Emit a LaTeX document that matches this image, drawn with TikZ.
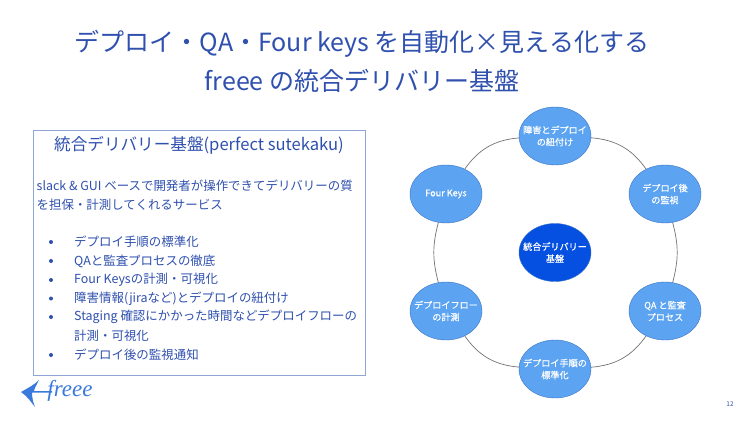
\documentclass[tikz,border=0pt]{standalone}
\usepackage{fontspec}
\setmainfont{Noto Sans CJK JP}
\newfontfamily\logofont{Liberation Serif}
\newfontfamily\petalfont[FakeBold=0.4]{Noto Sans CJK JP}
\usetikzlibrary{shapes.geometric}
\definecolor{inkblue}{HTML}{2F50AE}
\definecolor{framecol}{HTML}{8FA6D6}
\definecolor{petalcol}{HTML}{5CA4F2}
\definecolor{petalline}{HTML}{3A72C4}
\definecolor{hubcol}{HTML}{0550E0}
\definecolor{logocol}{HTML}{3A7ADC}
\tikzset{
    petal/.style={ellipse,draw=petalline,fill=petalcol,minimum width=72pt,minimum height=58pt,inner sep=-10pt,text=white,font=\petalfont\fontsize{9.1}{12}\selectfont,align=center},
    hub/.style={petal,draw=petalline,fill=hubcol},
    headline/.style={text=inkblue,font=\fontsize{25}{30}\selectfont},
    bodyline/.style={anchor=west,text=inkblue,inner sep=0pt,font=\fontsize{12.45}{14}\selectfont},
    dotmark/.style={circle,fill=inkblue,inner sep=0pt,minimum size=4pt},
    ringline/.style={draw=black!55,line width=0.7pt}
}
\begin{document}
\begin{tikzpicture}[x=1pt,y=-1pt]
    \useasboundingbox (0,0) rectangle (750,422);
    \fill[white] (0,0) rectangle (750,422);
    \node[headline] (title1) at (362,44) {デプロイ・QA・Four keys を自動化×見える化する};
    \node[headline] (title2) at (362,81) {freee の統合デリバリー基盤};
    % left panel
    \node[draw=framecol,line width=1pt,minimum width=332pt,minimum height=244pt,inner sep=0pt] (panel) at (199,253) {};
    \node[text=inkblue,inner sep=0pt,font=\fontsize{16.6}{18}\selectfont] (panelhead) at (199,145.5) {統合デリバリー基盤(perfect sutekaku)};
    \node[bodyline] (intro1) at (36.5,186) {slack \& GUI ベースで開発者が操作できてデリバリーの質};
    \node[bodyline] (intro2) at (36.5,205) {を担保・計測してくれるサービス};
    \foreach \i/\y/\t in {1/242/デプロイ手順の標準化,2/261/QAと監査プロセスの徹底,3/280/Four Keysの計測・可視化,4/298.5/障害情報(jiraなど)とデプロイの紐付け,5/317/Staging 確認にかかった時間などデプロイフローの,6/355/デプロイ後の監視通知}
    {
        \node[dotmark] (dot\i) at (51,\y) {};
        \node[bodyline] (item\i) at (74,\y) {\t};
    }
    \node[bodyline] (item5b) at (74,336) {計測・可視化};
    % ring of services
    \node[hub] (center) at (555,252.5) {統合デリバリー\\基盤};
    \node[petal] (incident) at (555,136) {障害とデプロイ\\の紐付け};
    \node[petal] (watch) at (665,194) {デプロイ後\\の監視};
    \node[petal] (audit) at (665,311) {QA と監査\\プロセス};
    \node[petal] (steps) at (555,369) {デプロイ手順の\\標準化};
    \node[petal] (flow) at (446,311) {デプロイフロー\\の計測};
    \node[petal] (keys) at (446,194) {Four Keys};
    \foreach \a/\b/\r in {incident/watch/25,watch/audit/15,audit/steps/25,steps/flow/25,flow/keys/15,keys/incident/25}
    {
        \draw[ringline] (\a) to[bend left=\r] (\b);
    }
    % logo
    \fill[logocol] (21,392) .. controls (28,388) and (34,385) .. (39,380) .. controls (37,384) and (35,387) .. (34,391) -- (52,391) -- (52,392.5) -- (32,392.5) .. controls (32,397) and (33,402) .. (35,407) .. controls (31,402) and (27,396) .. cycle;
    \node[text=logocol,inner sep=0pt,font=\logofont\itshape\fontsize{23}{23}\selectfont] (logo) at (70,390.5) {freee};
    \node[text=inkblue,inner sep=0pt,font=\fontsize{6.5}{8}\selectfont] (pageno) at (730,404) {12};
\end{tikzpicture}
\end{document}
